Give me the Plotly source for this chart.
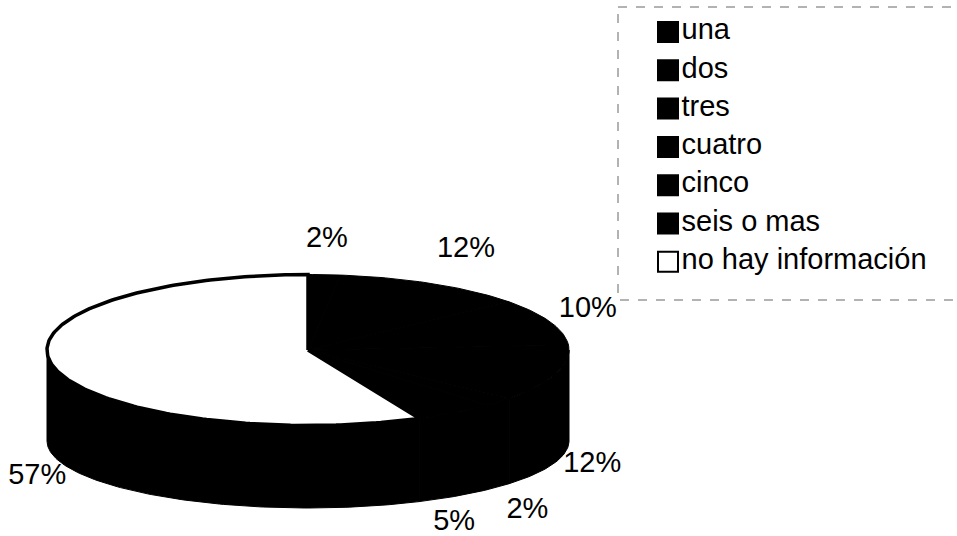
import math
import plotly.graph_objects as go

# Number of items per household, share of responses (%)
categories = ["una", "dos", "tres", "cuatro", "cinco", "seis o mas", "no hay información"]
values = [2, 12, 10, 12, 2, 5, 57]

# Styling
face_colors = ["#000000", "#000000", "#000000", "#000000", "#000000", "#000000", "#ffffff"]
side_color = "#000000"
FONT = "Liberation Sans, Arial, sans-serif"

# Canvas / projection of the tilted disc (pixel-based axes)
W, H = 957, 536
CX, CY = 308, 350          # centre of the top face
RX, RY = 261, 75.5         # radii of the top face
DEPTH, RY_BOT = 91, 67     # thickness and radius of the bottom rim (perspective)


def top_pt(t):
    r = math.radians(t)
    return CX + RX * math.sin(r), CY - RY * math.cos(r)


def bot_pt(t):
    r = math.radians(t)
    return CX + RX * math.sin(r), CY + DEPTH - RY_BOT * math.cos(r)


def arc(fn, a0, a1, step=1.0):
    n = max(2, int(abs(a1 - a0) / step) + 1)
    pts = [fn(a0 + (a1 - a0) * i / (n - 1)) for i in range(n)]
    return [p[0] for p in pts], [p[1] for p in pts]


total = float(sum(values))
bounds = []
acc = 0.0
for v in values:
    a0 = acc / total * 360.0
    acc += v
    bounds.append((a0, acc / total * 360.0))

fig = go.Figure()

# Side wall (only the front half, 90..270 deg clockwise from 12 o'clock, is visible)
for (a0, a1) in bounds:
    s, e = max(a0, 90.0), min(a1, 270.0)
    if s >= e:
        continue
    xt, yt = arc(top_pt, s, e)
    xb, yb = arc(bot_pt, e, s)
    fig.add_trace(go.Scatter(
        x=xt + xb + [xt[0]], y=yt + yb + [yt[0]],
        mode="lines", fill="toself", fillcolor=side_color,
        line=dict(color=side_color, width=1),
        hoverinfo="skip", showlegend=False,
    ))

# Top faces of the slices
for (a0, a1), col in zip(bounds, face_colors):
    xa, ya = arc(top_pt, a0, a1)
    white = col.lower() == "#ffffff"
    fig.add_trace(go.Scatter(
        x=[CX] + xa + [CX], y=[CY] + ya + [CY],
        mode="lines", fill="toself", fillcolor=col,
        line=dict(color="#000000", width=3.5 if white else 1),
        hoverinfo="skip", showlegend=False,
    ))

# Percentage labels placed outside the rim, with small collision nudges
label_nudge = {"dos": (13, -3), "cuatro": (-2, -8), "seis o mas": (-23, -3),
               "no hay información": (23, 13)}
lx, ly, lt = [], [], []
for cat, v, (a0, a1) in zip(categories, values, bounds):
    m = (a0 + a1) / 2.0
    r = math.radians(m)
    bx, by = top_pt(m) if math.cos(r) > 0 else bot_pt(m)
    dx, dy = label_nudge.get(cat, (0, 0))
    lx.append(bx + 40 * math.sin(r) + dx)
    ly.append(by - 35 * math.cos(r) + dy)
    lt.append(f"{v}%")

fig.add_trace(go.Scatter(
    x=lx, y=ly, text=lt, mode="text", textposition="middle center",
    textfont=dict(family=FONT, size=29, color="#000000"),
    hoverinfo="skip", showlegend=False,
))

# Legend: square swatches with category names
LEG_X, LEG_Y0, LEG_DY = 668, 32, 38.3
fig.add_trace(go.Scatter(
    x=[LEG_X] * len(categories),
    y=[LEG_Y0 + i * LEG_DY for i in range(len(categories))],
    text=categories, mode="markers+text", textposition="middle right",
    marker=dict(symbol="square", size=20, color=face_colors,
                line=dict(color="#000000", width=2)),
    textfont=dict(family=FONT, size=29, color="#000000"),
    hoverinfo="skip", showlegend=False,
))

fig.add_shape(type="rect", xref="x", yref="y", x0=618, y0=7, x1=963, y1=300,
              line=dict(color="#666666", width=1, dash="dash"), layer="below")

fig.update_layout(
    width=W, height=H, margin=dict(l=0, r=0, t=0, b=0),
    paper_bgcolor="#ffffff", plot_bgcolor="#ffffff", showlegend=False,
    xaxis=dict(range=[0, W], visible=False, fixedrange=True),
    yaxis=dict(range=[H, 0], visible=False, fixedrange=True),
)

fig.write_html("out.html")
